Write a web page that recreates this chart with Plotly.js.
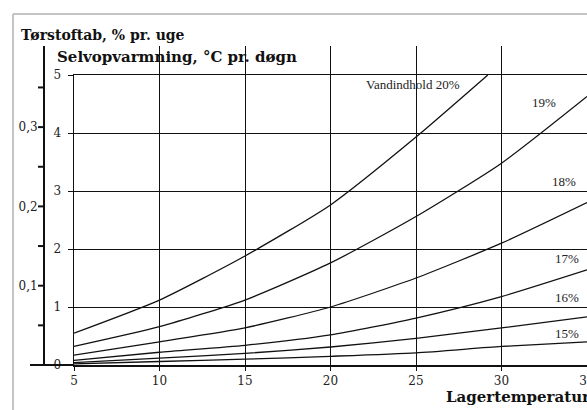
<!DOCTYPE html>
<html>
<head>
<meta charset="utf-8">
<script src="https://cdn.plot.ly/plotly-3.0.1.min.js"></script>
<style>html,body{margin:0;padding:0;background:#fff}#chart{width:587px;height:410px}</style>
</head>
<body>
<div id="chart"></div>
<script>
// Data
const temps = [5, 10, 15, 20, 25, 30, 35];
const temps20 = [5, 10, 15, 20, 25, 29.2];
const heat20 = [0.55, 1.12, 1.88, 2.76, 3.93, 5.0];
const heat19 = [0.32, 0.66, 1.12, 1.76, 2.56, 3.48, 4.63];
const heat18 = [0.17, 0.40, 0.64, 1.00, 1.50, 2.10, 2.80];
const heat17 = [0.08, 0.22, 0.34, 0.52, 0.81, 1.18, 1.64];
const heat16 = [0.04, 0.12, 0.20, 0.31, 0.46, 0.64, 0.83];
const heat15 = [0.02, 0.06, 0.10, 0.15, 0.21, 0.32, 0.40];
const curveLabels = ['Vandindhold 20%', '19%', '18%', '17%', '16%', '15%'];
const xTicks = [5, 10, 15, 20, 25, 30, 35];
const yTicks = [0, 1, 2, 3, 4, 5];
const lossTicks = [0.1, 0.2, 0.3];
const lossTickText = ['0,1', '0,2', '0,3'];
const lossMinor = [0.05, 0.15, 0.25, 0.35];
const titleLoss = 'Tørstoftab, % pr. uge';
const titleHeat = 'Selvopvarmning, °C pr. døgn';
const titleTemp = 'Lagertemperatur';

const W = 587, H = 410;
const px = v => v / W;
const py = v => 1 - v / H;
const serif = 'DejaVu Serif, serif';
const tserif = 'Liberation Serif, Times New Roman, serif';

const line = {color: '#111', width: 1.3, shape: 'spline', smoothing: 0.6};
const mk = (x, y) => ({x: x, y: y, type: 'scatter', mode: 'lines', line: line, hoverinfo: 'skip', showlegend: false, xaxis: 'x', yaxis: 'y'});
const traces = [
  mk(temps20, heat20), mk(temps, heat19), mk(temps, heat18),
  mk(temps, heat17), mk(temps, heat16), mk(temps, heat15),
  {x: [], y: [], type: 'scatter', mode: 'lines', xaxis: 'x', yaxis: 'y2', showlegend: false, hoverinfo: 'skip'}
];

const labelPos = [[24.8, 4.83], [32.5, 4.52], [33.66, 3.16], [33.84, 1.84], [33.84, 1.16], [33.84, 0.55]];
const annotations = curveLabels.map((t, i) => ({
  text: t, x: labelPos[i][0], y: labelPos[i][1], xref: 'x', yref: 'y',
  showarrow: false, font: {family: tserif, size: 13, color: '#222'}, xanchor: 'center', yanchor: 'middle'
}));
annotations.push(
  {text: '<b>' + titleLoss + '</b>', xref: 'paper', yref: 'paper', x: px(19), y: py(35), xanchor: 'left', yanchor: 'middle', showarrow: false, font: {family: serif, size: 14, color: '#111'}},
  {text: '<b>' + titleHeat + '</b>', xref: 'paper', yref: 'paper', x: px(55), y: py(57), xanchor: 'left', yanchor: 'middle', showarrow: false, font: {family: serif, size: 15, color: '#111'}},
  {text: '<b>' + titleTemp + '</b>', xref: 'paper', yref: 'paper', x: px(444), y: py(397), xanchor: 'left', yanchor: 'middle', showarrow: false, font: {family: serif, size: 15, color: '#111'}}
);

// left-axis tick marks (drawn as shapes at the tick values)
const tickShapes = lossTicks.concat(lossMinor).map(v => ({
  type: 'line', xref: 'paper', yref: 'y2', x0: px(38), x1: px(43), y0: v, y1: v,
  line: {color: '#111', width: 2}
}));

const layout = {
  width: W, height: H,
  margin: {l: 0, r: 0, t: 0, b: 0},
  paper_bgcolor: '#fff', plot_bgcolor: 'rgba(0,0,0,0)',
  showlegend: false,
  xaxis: {
    domain: [px(74), 1], range: [5, 35], tickvals: xTicks,
    showgrid: true, gridcolor: '#111', gridwidth: 1,
    showline: true, linecolor: '#111', linewidth: 1.5, mirror: true,
    ticks: 'outside', ticklen: 4, tickcolor: '#111', ticklabeloverflow: 'allow',
    tickfont: {family: serif, size: 12, color: '#222'}, zeroline: false, fixedrange: true
  },
  yaxis: {
    domain: [py(365), py(75)], range: [0, 5], tickvals: yTicks,
    showgrid: true, gridcolor: '#111', gridwidth: 1,
    showline: true, linecolor: '#111', linewidth: 1.5,
    ticks: 'outside', ticklen: 5, tickcolor: '#111', ticklabelstandoff: 4,
    tickfont: {family: serif, size: 12, color: '#222'}, zeroline: false, fixedrange: true
  },
  yaxis2: {
    domain: [py(365), py(46)], anchor: 'free', position: px(43), side: 'left', range: [0, (365 - 46) / 793],
    tickvals: lossTicks, ticktext: lossTickText, showgrid: false, zeroline: false,
    showline: true, linecolor: '#111', linewidth: 1.5,
    ticks: 'outside', ticklen: 3, tickcolor: '#111', ticklabelstandoff: 0,
    tickfont: {family: serif, size: 12, color: '#222'}, fixedrange: true
  },
  shapes: [
    {type: 'line', xref: 'paper', yref: 'paper', x0: px(30), x1: px(74), y0: py(365), y1: py(365), line: {color: '#111', width: 2}},
    {type: 'line', xref: 'paper', yref: 'paper', x0: px(13), x1: px(13), y0: py(14), y1: py(412), line: {color: '#c4c4c4', width: 2}},
    {type: 'line', xref: 'paper', yref: 'paper', x0: px(13), x1: px(590), y0: py(14), y1: py(14), line: {color: '#c4c4c4', width: 2}}
  ].concat(tickShapes),
  annotations: annotations
};

Plotly.newPlot('chart', traces, layout, {staticPlot: true, displayModeBar: false});
</script>
</body>
</html>
